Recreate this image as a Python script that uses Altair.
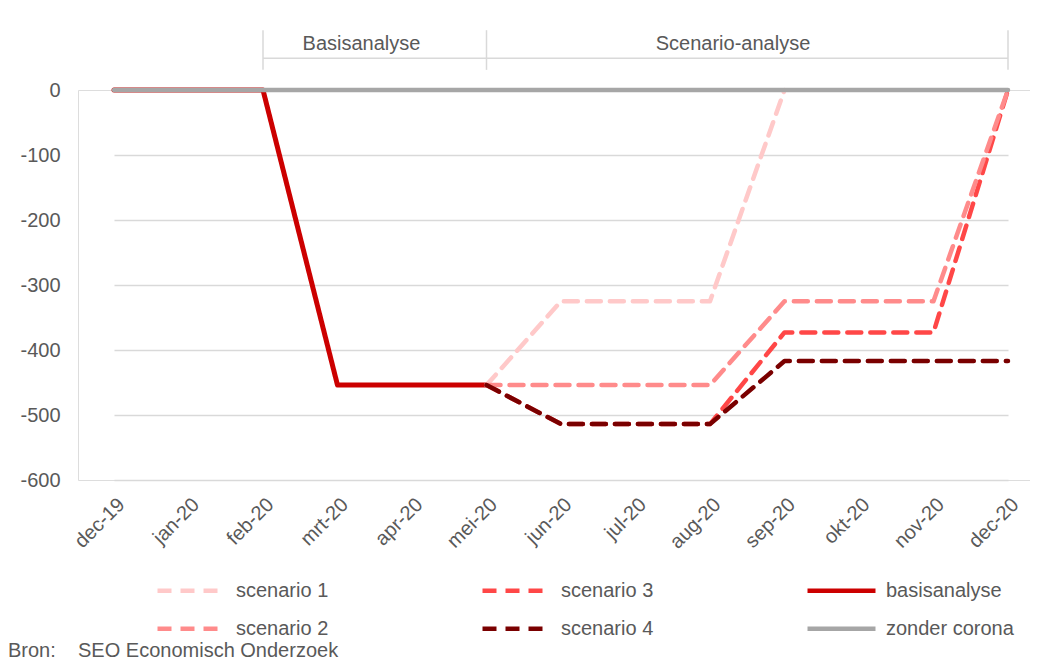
import altair as alt
import pandas as pd

# ---------------- data ----------------
months = ["dec-19", "jan-20", "feb-20", "mrt-20", "apr-20", "mei-20", "jun-20",
          "jul-20", "aug-20", "sep-20", "okt-20", "nov-20", "dec-20"]

basisanalyse = [0, 0, 0, -454, -454, -454, None, None, None, None, None, None, None]
scenario_1 = [None, None, None, None, None, -454, -325, -325, -325, 0, None, None, None]
scenario_2 = [None, None, None, None, None, -454, -454, -454, -454, -325, -325, -325, 0]
scenario_3 = [None, None, None, None, None, -454, -514, -514, -514, -373, -373, -373, 0]
scenario_4 = [None, None, None, None, None, -454, -514, -514, -514, -417, -417, -417, -417]
zonder_corona = [0, 0, 0, 0, 0, 0, 0, 0, 0, 0, 0, 0, 0]

y_ticks = [-600, -500, -400, -300, -200, -100, 0]

series_values = {
    "basisanalyse": basisanalyse,
    "scenario 1": scenario_1,
    "scenario 2": scenario_2,
    "scenario 3": scenario_3,
    "scenario 4": scenario_4,
    "zonder corona": zonder_corona,
}

# legend rows (each row is its own legend)
legend_row1 = ["scenario 1", "scenario 3", "basisanalyse"]
legend_row2 = ["scenario 2", "scenario 4", "zonder corona"]

# bracket annotations above the plot (y in data units)
bracket_x = ["feb-20", "mei-20", "dec-20"]
bracket_labels = ["Basisanalyse", "Scenario-analyse"]

# ---------------- styles ----------------
colors = {
    "scenario 1": "#FFC9C9",
    "scenario 3": "#FF4747",
    "basisanalyse": "#CC0000",
    "scenario 2": "#FF8B8B",
    "scenario 4": "#7A0000",
    "zonder corona": "#A6A6A6",
}
dashes = {
    "scenario 1": [14, 9],
    "scenario 3": [14, 9],
    "basisanalyse": [1, 0],
    "scenario 2": [14, 9],
    "scenario 4": [14, 9],
    "zonder corona": [1, 0],
}
widths = {
    "basisanalyse": 5,
    "scenario 1": 4.5,
    "scenario 2": 4.5,
    "scenario 3": 4.5,
    "scenario 4": 4.5,
    "zonder corona": 4.5,
}
draw_row1 = ["basisanalyse", "scenario 1", "scenario 3"]
draw_row2 = ["scenario 2", "scenario 4", "zonder corona"]

TEXT = "#595959"
GRID = "#D9D9D9"
FONT = "Liberation Sans"

rows = []
for s, vals in series_values.items():
    for m, v in zip(months, vals):
        if v is not None:
            rows.append({"month": m, "value": v, "series": s})
df = pd.DataFrame(rows)

x_enc = alt.X(
    "month:O", sort=months, title=None,
    scale=alt.Scale(type="point", domain=months, range=[36, 930], padding=0),
    axis=alt.Axis(labelAngle=-45, labelFontSize=20, labelColor=TEXT, labelFont=FONT,
                  labelPadding=14, ticks=False, domain=False, grid=False),
)
y_enc = alt.Y(
    "value:Q", title=None,
    scale=alt.Scale(domain=[-600, 0], nice=False, zero=False),
    axis=alt.Axis(values=y_ticks, labelExpr="'' + datum.value", labelFontSize=20,
                  labelColor=TEXT, labelFont=FONT, labelPadding=18, ticks=False,
                  domain=False, grid=True, gridColor=GRID, gridWidth=1.5),
)


def legend_def(ly):
    return alt.Legend(
        title=None, orient="none", legendX=77, legendY=ly, columns=3,
        direction="horizontal", columnPadding=144,
        symbolType="stroke", symbolSize=4624, symbolStrokeWidth=4.5,
        labelFontSize=20, labelColor=TEXT, labelFont=FONT, labelOffset=8, padding=0,
    )


def line_group(draw, legend_domain, ly):
    leg = legend_def(ly)
    c = alt.Color(
        "series:N",
        scale=alt.Scale(domain=legend_domain, range=[colors[s] for s in legend_domain]),
        legend=leg,
    )
    d = alt.StrokeDash(
        "series:N",
        scale=alt.Scale(domain=legend_domain, range=[dashes[s] for s in legend_domain]),
        legend=leg,
    )
    ls = []
    for s in draw:
        ls.append(
            alt.Chart(df)
            .transform_filter(alt.datum.series == s)
            .mark_line(strokeWidth=widths[s], strokeCap="round", strokeJoin="round")
            .encode(x=x_enc, y=y_enc, color=c, strokeDash=d)
        )
    return alt.layer(*ls)


group1 = line_group(draw_row1, legend_row1, 464)
group2 = line_group(draw_row2, legend_row2, 502)

# bracket lines
hline = pd.DataFrame({"month": [bracket_x[0]], "month2": [bracket_x[-1]],
                      "value": [49]})
vlines = pd.DataFrame({"month": bracket_x, "value": [31, 31, 31],
                       "value2": [92, 92, 92]})
rule_h = (alt.Chart(hline).mark_rule(color=GRID, strokeWidth=1.5)
          .encode(x=x_enc, x2="month2:O", y=y_enc))
rule_v = (alt.Chart(vlines).mark_rule(color=GRID, strokeWidth=1.5)
          .encode(x=x_enc, y=y_enc, y2="value2:Q"))
lab1 = pd.DataFrame({"month": ["mrt-20"], "value": [71], "label": [bracket_labels[0]]})
lab2 = pd.DataFrame({"month": ["aug-20"], "value": [71], "label": [bracket_labels[1]]})
text1 = (alt.Chart(lab1).mark_text(fontSize=20, color=TEXT, font=FONT, dx=24,
                                    baseline="middle", align="center")
         .encode(x=x_enc, y=y_enc, text="label:N"))
text2 = (alt.Chart(lab2).mark_text(fontSize=20, color=TEXT, font=FONT, dx=23,
                                    baseline="middle", align="center")
         .encode(x=x_enc, y=y_enc, text="label:N"))

chart = (
    alt.layer(group1, group2, rule_h, rule_v, text1, text2)
    .resolve_scale(color="independent", strokeDash="independent")
    .properties(
        width=952, height=390,
        padding={"left": 70, "top": 82, "right": 0, "bottom": 181},
        autosize=alt.AutoSizeParams(type="none"),
        title=alt.TitleParams(
            text="Bron:\u00a0\u00a0\u00a0\u00a0SEO Economisch Onderzoek",
            orient="bottom", anchor="start", frame="group", dx=-70, offset=2,
            fontSize=20, fontWeight="normal", color=TEXT, font=FONT,
        ),
    )
    .configure_view(stroke=None)
    .configure(font=FONT, background="white")
)

chart.save("out.html", embed_options={"renderer": "svg", "actions": False})
